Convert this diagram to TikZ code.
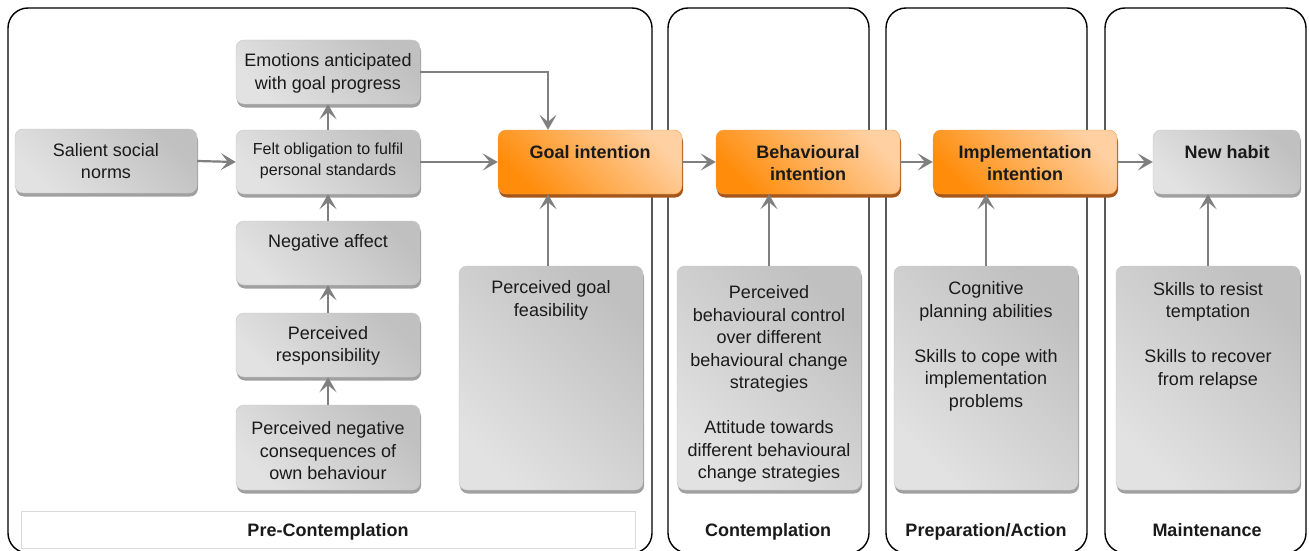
\documentclass[tikz,border=0pt]{standalone}
\usepackage{fontspec}
\setmainfont{Liberation Sans}
\usetikzlibrary{arrows.meta,shadows}
\definecolor{gdark}{HTML}{C0C0C0}
\definecolor{glight}{HTML}{E2E2E2}
\definecolor{gshadow}{HTML}{A0A0A0}
\definecolor{gedge}{HTML}{C6C6C6}
\definecolor{odark}{HTML}{FF8C0A}
\definecolor{olight}{HTML}{FFD0A2}
\definecolor{oshadow}{HTML}{A5561A}
\definecolor{oedge}{HTML}{F0A050}
\definecolor{arrowc}{HTML}{7F7F7F}
\definecolor{textc}{HTML}{1A1A1A}
\definecolor{lbledge}{HTML}{DADADA}
\begin{document}
\begin{tikzpicture}[x=1pt,y=-1pt,
  panel/.style={draw=black, line width=1.4pt, rounded corners=20pt, fill=white, inner sep=0pt},
  gbox/.style={rounded corners=8pt, draw=gedge, line width=0.4pt,
    general shadow={fill=gshadow, shadow xshift=1pt, shadow yshift=-3.5pt},
    top color=gdark, bottom color=glight, shading angle=-45, inner sep=0pt,
    align=center, font=\fontsize{18}{22.5}\selectfont, text=textc},
  obox/.style={rounded corners=8pt, draw=oedge, line width=0.4pt,
    general shadow={fill=oshadow, shadow xshift=1pt, shadow yshift=-3.5pt},
    top color=olight, bottom color=odark, shading angle=-45, inner sep=0pt},
  txt/.style={align=center, font=\fontsize{18}{22.5}\selectfont, text=textc, inner sep=0pt},
  btxt/.style={align=center, font=\fontsize{18}{22.5}\selectfont\bfseries, text=textc, inner sep=0pt},
  arr/.style={draw=arrowc, line width=2.2pt, -{Stealth[length=15pt,width=17pt,inset=7pt]}}
]
\useasboundingbox (0,0) rectangle (1309,551);
\clip (0,0) rectangle (1309,551);

% stage panels
\node[panel, minimum width=644, minimum height=545] (pre) at (330,280.5) {};
\node[panel, minimum width=201, minimum height=545] (con) at (768.5,280.5) {};
\node[panel, minimum width=201, minimum height=545] (prep) at (986.5,280.5) {};
\node[panel, minimum width=201, minimum height=545] (main) at (1205.5,280.5) {};

% stage labels
\node[draw=lbledge, line width=0.6pt, fill=white, minimum width=614, minimum height=37, inner sep=0pt] (prelbl) at (328,529.5) {};
\node[btxt, anchor=base] (pretxt) at (328,536.5) {Pre-Contemplation};
\node[btxt, anchor=base] (contxt) at (768,536.5) {Contemplation};
\node[btxt, anchor=base] (preptxt) at (986,536.5) {Preparation/Action};
\node[btxt, anchor=base] (maintxt) at (1207,536.5) {Maintenance};

% pre-contemplation factors
\node[gbox, minimum width=182, minimum height=64] (sal) at (106,161) {Salient social\\norms};
\node[gbox, minimum width=184, minimum height=64] (emo) at (328,72) {};
\node[txt] (emotxt) at (328,73.5) {Emotions anticipated\\with goal progress};
\node[gbox, minimum width=184, minimum height=64] (felt) at (328,162) {};
\node[txt, font=\fontsize{16}{21}\selectfont] (felttxt) at (328,161) {Felt obligation to fulfil\\personal standards};
\node[gbox, minimum width=184, minimum height=64] (neg) at (328,253) {};
\node[txt] (negtxt) at (328,242.5) {Negative affect};
\node[gbox, minimum width=184, minimum height=64] (resp) at (328,345) {};
\node[txt] (resptxt) at (328,346) {Perceived\\responsibility};
\node[gbox, minimum width=184, minimum height=85] (cons) at (328,447.5) {};
\node[txt] (constxt) at (328,451) {Perceived negative\\consequences of\\own behaviour};
\node[gbox, minimum width=184, minimum height=224] (feas) at (551,378) {};
\node[txt] (feastxt) at (551,300.5) {Perceived goal\\feasibility};

% intentions
\node[obox, minimum width=184, minimum height=64] (goal) at (590,162) {};
\node[btxt] (goaltxt) at (590,152) {Goal intention};
\node[obox, minimum width=184, minimum height=64] (behav) at (808,162) {};
\node[btxt] (behavtxt) at (808,163) {Behavioural\\intention};
\node[obox, minimum width=184, minimum height=64] (impl) at (1025,162) {};
\node[btxt] (impltxt) at (1025,163) {Implementation\\intention};
\node[gbox, minimum width=147, minimum height=64] (habit) at (1226.5,162) {};
\node[btxt] (habittxt) at (1227,152) {New habit};

% contemplation, preparation and maintenance factors
\node[gbox, minimum width=184, minimum height=224] (ctrl) at (769,378) {};
\node[txt] (ctrltxt) at (769,384) {Perceived\\behavioural control\\over different\\behavioural change\\strategies\\\mbox{}\\Attitude towards\\different behavioural\\change strategies};
\node[gbox, minimum width=184, minimum height=224] (cogn) at (986,378) {};
\node[txt] (cogntxt) at (986,346.5) {Cognitive\\planning abilities\\\mbox{}\\Skills to cope with\\implementation\\problems};
\node[gbox, minimum width=184, minimum height=224] (skill) at (1208,378) {};
\node[txt] (skilltxt) at (1208,335.5) {Skills to resist\\temptation\\\mbox{}\\Skills to recover\\from relapse};

% connectors
\draw[arr] (sal.east) -- (felt.west);
\draw[arr] (felt.north) -- (emo.south);
\draw[arr] (neg.north) -- (felt.south);
\draw[arr] (resp.north) -- (neg.south);
\draw[arr] (cons.north) -- (resp.south);
\draw[arr] (emo.east) -| ([xshift=-42pt]goal.north);
\draw[arr] (felt.east) -- (goal.west);
\draw[arr] ([xshift=-3pt]feas.north) -- ([xshift=-3pt]feas.north |- goal.south);
\draw[arr] (goal.east) -- (behav.west);
\draw[arr] (ctrl.north) -- (ctrl.north |- behav.south);
\draw[arr] (behav.east) -- (impl.west);
\draw[arr] (cogn.north) -- (cogn.north |- impl.south);
\draw[arr] (impl.east) -- (habit.west);
\draw[arr] (skill.north) -- (skill.north |- habit.south);
\end{tikzpicture}
\end{document}
